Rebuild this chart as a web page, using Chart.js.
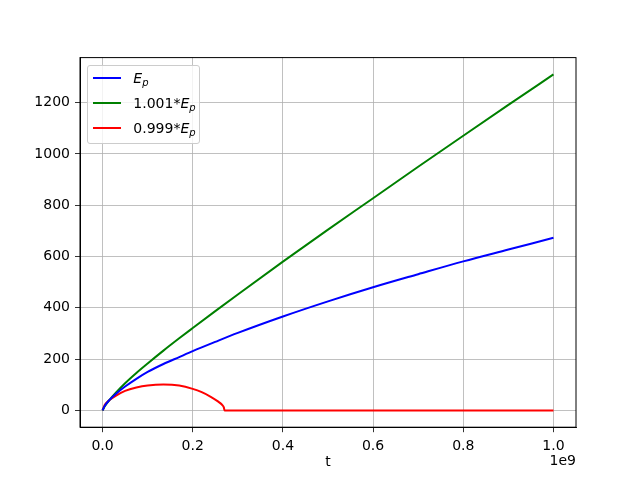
<!DOCTYPE html>
<html>
<head>
<meta charset="utf-8">
<script src="https://cdn.jsdelivr.net/npm/chart.js@4"></script>
<style>
  body { margin: 0; background: #fff; }
  #wrap { position: relative; width: 640px; height: 480px; }
  #chart { position: absolute; left: 0; top: 0; }
  #legend {
    position: absolute; box-sizing: border-box;
    border: 1px solid #cccccc; border-radius: 3px;
    background: rgba(255,255,255,0.8);
    font-family: 'DejaVu Sans', sans-serif; font-size: 14px; color: #000;
  }
  .row { position: absolute; left: 0; height: 16px; line-height: 16px; white-space: nowrap; }
  .swatch { position: absolute; left: 5px; top: 7px; width: 28px; height: 0; border-top: 2px solid; }
  .txt { position: absolute; left: 45px; top: 0; }
  .txt sub { font-size: 10px; vertical-align: -3px; line-height: 0; }
</style>
</head>
<body>
<div id="wrap">
  <canvas id="chart" width="640" height="480"></canvas>
  <div id="legend"></div>
</div>
<script>
// t in units of 1e9
const tValues = [0, 0.005, 0.015, 0.03, 0.05, 0.075, 0.1, 0.135, 0.17, 0.2, 0.25, 0.3, 0.4, 0.5, 0.6, 0.7, 0.8, 0.9, 1.0];
const epValues = [0, 18, 40, 65, 93, 123, 150, 181, 208, 231, 267, 302, 366, 425, 480, 531, 581, 627, 673];
const epHighValues = [0, 16, 40, 70, 106, 146, 183, 233, 281, 321, 387, 452, 580, 705, 827, 950, 1071, 1191, 1310];

const redT = [0, 0.005, 0.015, 0.03, 0.05, 0.075, 0.1, 0.135, 0.17, 0.2, 0.22, 0.24, 0.255, 0.265, 0.269, 0.2705, 1.0];
const epLowValues = [0, 22, 40, 58, 76, 89, 97, 101, 97, 84, 71, 53, 36, 22, 12, 0, 0];

const seriesNames = ['E_p', '1.001*E_p', '0.999*E_p'];
const seriesColors = ['#0000ff', '#008000', '#ff0000'];

const xTicks = [0, 0.2, 0.4, 0.6, 0.8, 1.0];
const yTicks = [0, 200, 400, 600, 800, 1000, 1200];

function pts(xs, ys) {
  return xs.map((x, i) => ({ x: x, y: ys[i] }))
}

const FONT = 'DejaVu Sans';

const frame = {
  id: 'frame',
  afterDraw(chart) {
    const ctx = chart.ctx;
    const a = chart.chartArea;
    ctx.save();
    ctx.strokeStyle = '#000';
    ctx.lineWidth = 1;
    ctx.strokeRect(a.left, a.top, a.right - a.left, a.bottom - a.top);
    ctx.fillStyle = '#000';
    ctx.font = '14px "' + FONT + '"';
    ctx.textAlign = 'right';
    ctx.textBaseline = 'middle';
    ctx.fillText('1e9', a.right, 461.5);
    ctx.restore();
  }
};

const chart = new Chart(document.getElementById('chart'), {
  type: 'line',
  data: {
    datasets: [
      { label: seriesNames[0], data: pts(tValues, epValues), borderColor: seriesColors[0] },
      { label: seriesNames[1], data: pts(tValues, epHighValues), borderColor: seriesColors[1] },
      { label: seriesNames[2], data: pts(redT, epLowValues), borderColor: seriesColors[2] }
    ]
  },
  options: {
    responsive: false,
    animation: false,
    events: [],
    layout: { padding: { top: 57.6, right: 64, left: 0, bottom: 0 } },
    elements: {
      point: { radius: 0 },
      line: { borderWidth: 2, cubicInterpolationMode: 'monotone', fill: false }
    },
    plugins: { legend: { display: false }, tooltip: { enabled: false } },
    scales: {
      x: {
        type: 'linear', min: -0.05, max: 1.05,
        afterBuildTicks: s => { s.ticks = xTicks.map(v => ({ value: v })) },
        afterFit: s => { s.height = 52.8 },
        grid: { color: '#b0b0b0', lineWidth: 0.8, tickLength: 5, tickColor: '#000' },
        border: { color: '#000', width: 1 },
        ticks: { color: '#000', padding: 6, maxRotation: 0, font: { family: FONT, size: 14 },
                 callback: v => v.toFixed(1) },
        title: { display: true, text: 't', color: '#000', font: { family: FONT, size: 14 },
                 padding: { top: 0, bottom: 9 } }
      },
      y: {
        type: 'linear', min: -65.5, max: 1375.5,
        afterBuildTicks: s => { s.ticks = yTicks.map(v => ({ value: v })) },
        afterFit: s => { s.width = 80 },
        grid: { color: '#b0b0b0', lineWidth: 0.8, tickLength: 5, tickColor: '#000' },
        border: { color: '#000', width: 1 },
        ticks: { color: '#000', padding: 5, font: { family: FONT, size: 14 },
                 callback: v => String(v) }
      }
    }
  },
  plugins: [frame]
});

// legend drawn inside the plot, like the original
const a = chart.chartArea;
const legend = document.getElementById('legend');
legend.style.left = (a.left + 7.3) + 'px';
legend.style.top = (a.top + 7.4) + 'px';
legend.style.width = '113px';
legend.style.height = '79px';
seriesNames.forEach((name, i) => {
  const row = document.createElement('div');
  row.className = 'row';
  row.style.top = (4.3 + 25 * i) + 'px';
  row.style.width = '110px';
  const sw = document.createElement('span');
  sw.className = 'swatch';
  sw.style.borderColor = seriesColors[i];
  const tx = document.createElement('span');
  tx.className = 'txt';
  tx.innerHTML = name.replace('E_p', '<i>E</i><sub><i>p</i></sub>');
  row.appendChild(sw);
  row.appendChild(tx);
  legend.appendChild(row);
});
</script>
</body>
</html>
